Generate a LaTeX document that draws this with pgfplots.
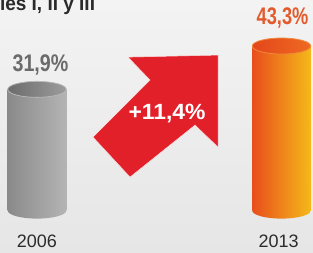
\documentclass[border=0pt]{standalone}
\usepackage{pgfplots}
\pgfplotsset{compat=1.18}
\usepackage{graphicx}
\usepackage{fontspec}
\setmainfont{Liberation Sans}
\usetikzlibrary{shapes.geometric}
\definecolor{bgtop}{HTML}{F3F3F3}
\definecolor{bgbot}{HTML}{E6E6E6}
\definecolor{gL}{HTML}{8A8A8A}
\definecolor{gM}{HTML}{C6C6C6}
\definecolor{gR}{HTML}{B4B4B4}
\definecolor{gTL}{HTML}{6C6C6C}
\definecolor{gTR}{HTML}{9C9C9C}
\definecolor{gRim}{HTML}{B8B8B8}
\definecolor{oL}{HTML}{E84E1C}
\definecolor{oM}{HTML}{F39414}
\definecolor{oR}{HTML}{F5B91A}
\definecolor{oTL}{HTML}{E4461B}
\definecolor{oTR}{HTML}{EE6A22}
\definecolor{oRim}{HTML}{F08A3A}
\definecolor{arrowred}{HTML}{E2202A}
\definecolor{glabel}{HTML}{6B6B6B}
\definecolor{olabel}{HTML}{E35A2C}
\definecolor{ylabel}{HTML}{2B2B2B}
\definecolor{titlec}{HTML}{2A2A2A}
\begin{document}
\begin{tikzpicture}
\begin{axis}[
  at={(0,0)}, anchor=south west,
  scale only axis, width=313pt, height=252pt,
  xmin=-0.1513, xmax=1.1288, ymin=-10.92, ymax=55.39,
  axis line style={draw=none},
  ytick=\empty,
  xtick={0,0.988}, xticklabels={2006,2013},
  major tick length=0pt,
  xticklabel style={anchor=center, yshift=10.5pt, text=ylabel, font=\fontsize{18}{18}\selectfont},
  axis background/.style={top color=bgtop, bottom color=bgbot},
  clip=false,
  /pgf/number format/assume math mode=true,
]
% --- 2006 cylinder ---
\addplot[draw=none, nodes near coords={\phantom{0}},
  every node near coord/.style={anchor=center, ellipse, inner sep=0pt, outer sep=0pt,
    minimum width=58.5pt, minimum height=16pt, left color=gL, middle color=gM, right color=gR}]
  coordinates {(0,0)};
\addplot[ybar, bar width=0.2393, bar shift=0pt, draw=none, left color=gL, middle color=gM, right color=gR]
  coordinates {(0,31.9)};
\addplot[draw=none, nodes near coords={\phantom{0}},
  every node near coord/.style={anchor=center, ellipse, inner sep=0pt, outer sep=0pt,
    minimum width=58.5pt, minimum height=16pt, left color=gTL, right color=gTR, draw=gRim, line width=0.8pt}]
  coordinates {(0,31.9)};
\addplot[draw=none, point meta=explicit,
  nodes near coords={\scalebox{0.82}[1]{\pgfmathprintnumber[fixed, precision=1, use comma]{\pgfplotspointmeta}\%}},
  every node near coord/.style={anchor=center, yshift=24.8pt, xshift=3.5pt, text=glabel,
    font=\bfseries\fontsize{24}{24}\selectfont}]
  coordinates {(0,31.9) [31.9]};
% --- 2013 cylinder ---
\addplot[draw=none, nodes near coords={\phantom{0}},
  every node near coord/.style={anchor=center, ellipse, inner sep=0pt, outer sep=0pt,
    minimum width=58.5pt, minimum height=16pt, left color=oL, middle color=oM, right color=oR}]
  coordinates {(1,0)};
\addplot[ybar, bar width=0.2393, bar shift=0pt, draw=none, left color=oL, middle color=oM, right color=oR]
  coordinates {(1,43.3)};
\addplot[draw=none, nodes near coords={\phantom{0}},
  every node near coord/.style={anchor=center, ellipse, inner sep=0pt, outer sep=0pt,
    minimum width=58.5pt, minimum height=16pt, left color=oTL, right color=oTR, draw=oRim, line width=0.8pt}]
  coordinates {(1,43.3)};
\addplot[draw=none, point meta=explicit,
  nodes near coords={\scalebox{0.76}[1]{\pgfmathprintnumber[fixed, precision=1, use comma]{\pgfplotspointmeta}\%}},
  every node near coord/.style={anchor=center, yshift=28pt, xshift=1pt, text=olabel,
    font=\bfseries\fontsize{24}{24}\selectfont}]
  coordinates {(1,43.3) [43.3]};
% --- arrow ---
\addplot[fill=arrowred, draw=white!85!arrowred, line width=0.5pt] coordinates {
  (0.7403,40.92) (0.3722,40.39) (0.4622,34.34) (0.2290,19.34)
  (0.3804,8.82) (0.6462,22.50) (0.7403,16.71)} -- cycle;
\node[text=white, font=\bfseries\fontsize{22}{22}\selectfont, anchor=center]
  at (axis cs:0.5317,25.66) {\scalebox{1.04}[1]{+11,4\%}};
% --- title fragment (upper part lies above the page) ---
\node[text=titlec, font=\bfseries\fontsize{20}{20}\selectfont, anchor=base west, inner sep=0pt, outer sep=0pt]
  at (axis cs:-0.1513,52.76) {\smash{\scalebox{0.95}[1]{les I, II y III}}};
\end{axis}
\end{tikzpicture}
\end{document}
